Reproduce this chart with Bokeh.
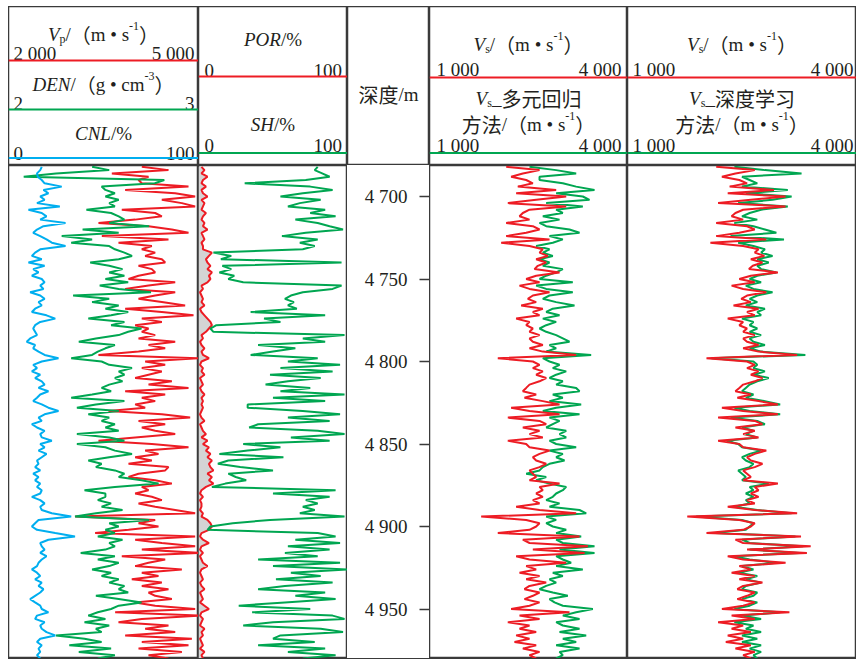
from bokeh.plotting import figure
from bokeh.models import Range1d, LinearAxis, FixedTicker, Label, Span
from bokeh.layouts import row, column
from bokeh.embed import file_html
from bokeh.resources import INLINE

# ---------------- data ----------------
depth = list(range(4682, 4981, 2))

cnl = [17.5,16.7,15,15.4,17.5,19,28,18.4,21,16.7, 19,15,27,10.5,17.5,20,16.7,30,18.4,15,
       13,16.7,20,22.8,30,16.7,14,12.3,17.5,10.5, 19,13,15.8,12.3,17.5,19,16.7,18.4,11.4,16.7,
       19,15.8,17.5,14,12.3,20,24.6,16.7,14,13,
       14,15,11.4,9.6,14,13,15.8,19,26.3,17.5, 13,15,12.3,16.7,14,17.5,19,15.8,21,16.7,
       15,13,17.5,21,26.3,19,15.8,17.5,12.3,15, 19,16.7,17.5,22.8,16.7,19,15.8,20,17.5,15,
       15.8,14,16.7,13,15.8,14,16.7,15,17.5,16.7,
       12.3,16.7,19,16.7,17.5,22.8,33,15.8,14,12.3, 15,24.6,35,21,16.7,17.5,19,16.7,20,17.5,
       15.8,15,12.3,15,16.7,14,17.5,15.8,18.4,16.7, 14,11.4,14,16.7,17.5,21,15,14,19,16.7,
       17.5,20,24.6,16.7,15,17.5,15.8,16.7,15,16.7]

den = [2.44,2.53,2.25,2.08,2.82,2.77,2.49,2.51,2.56,2.51, 2.58,2.53,2.56,2.41,2.54,2.58,2.61,2.53,2.74,2.39,
       2.58,2.28,2.44,2.33,2.53,2.56,2.61,2.65,2.58,2.43, 2.53,2.60,2.53,2.61,2.51,2.63,2.48,2.58,2.75,2.34,
       2.53,2.44,2.58,2.51,2.63,2.54,2.42,2.61,2.54,2.70,
       2.63,2.58,2.46,2.37,2.56,2.51,2.47,2.44,2.33,2.49, 2.53,2.65,2.58,2.61,2.56,2.60,2.53,2.49,2.54,2.44,
       2.33,2.61,2.46,2.36,2.58,2.42,2.53,2.49,2.56,2.51, 2.58,2.36,2.53,2.61,2.36,2.51,2.56,2.65,2.53,2.42,
       2.49,2.46,2.56,2.61,2.58,2.70,2.79,2.56,2.40,2.51,
       2.51,2.47,2.54,2.49,2.60,2.46,2.35,2.74,2.53,2.58, 2.51,2.56,2.47,2.60,2.53,2.56,2.51,2.38,2.56,2.47,
       2.58,2.53,2.44,2.54,2.49,2.58,2.53,2.61,2.58,2.63, 2.46,2.58,2.70,2.58,2.54,2.47,2.42,2.51,2.40,2.53,
       2.46,2.49,2.25,2.40,2.49,2.32,2.54,2.37,2.56,2.47]

vp = [4105,4526,3632,4211,4053,4105,4842,3842,4632,4947, 4421,4737,4947,3789,4316,4421,4000,3421,4211,4579,
      4842,3474,4526,3737,4263,4105,4316,4158,4421,4474, 4053,4263,4316,4053,3895,4632,4211,3842,4632,4316,
      4053,4421,4789,3842,4421,4921,4105,4421,4000,4211,
      4105,4316,4053,4632,4211,4474,4053,3420,5000,4158, 4474,4105,4421,4211,4000,4579,4211,4842,3842,4474,
      4105,4316,4000,4158,3579,4421,4868,4053,4474,4105, 4316,4632,4000,3421,4263,4842,4158,4368,4000,4263,
      3895,4526,4474,4053,3895,4316,4579,4105,4211,4000,
      4263,4421,4053,4316,4632,4947,3053,4316,4053,4368, 3895,3368,4947,4000,4421,4947,4105,5000,3789,4474,
      4211,4000,4737,4105,4368,3947,4421,4105,4526,4211, 4316,4579,4000,4316,4947,3684,5000,4105,3737,4526,
      4158,4632,3842,4895,4105,4842,4053,4737,4211,4526]

por = [2,4,2,6,3,2,5,2,3,6, 2,4,3,2,5,3,2,4,3,6, 2,3,4,2,3,3,9,7,5,6,
       8,6,9,7,8,6,2,3,1,2, 3,2,4,1,2,4,6,8,9,7,
       5,2,3,1,2,4,2,3,7,2, 1,3,2,4,1,2,3,1,2,4, 2,3,2,
       3,2,1,2,4,1,2,3,5,2, 6,3,7,5,8,6,9,7,8,10, 6,9,7,10,5,2,1,3,1,2,
       2,1,3,2,6,8,9,7,2,1, 3,7,2,1,3,1,2,3,6,2, 1,2,3,1,2,4,1,2,3,1,
       4,7,2,1,3,2,1,4,2,3, 1,2,3,1,4,2,3]

sh = [80,78,83,88,72,31,75,90,70,55, 82,68,60,85,75,92,65,80,88,97,
      72,56,80,68,78,70,10,22,15,96, 16,22,14,24,20,30,96,90,70,62,
      58,64,60,66,35,85,44,55,12,8, 10,98,70,85,40,65,50,35,80,60,
      95,55,90,48,82,60,45,75,55,98, 50,85,33,
      33,70,95,60,88,40,34,80,98,62, 88,30,55,33,14,57,20,13,28,50,
      20,25,32,18,9,92,50,88,72,80, 70,78,68,98,48,23,8,6,80,92,
      65,95,60,88,58,80,40,95,50,100, 62,82,52,90,58,40,85,65,92,58,
      27,75,36,90,98,50,30,82,97,55, 50,78,40,85,60,92,70]

vs = [2162,2667,2414,2237,2465,2566,2338,2919,2313,3071, 2616,2187,3071,2515,2414,2364,2515,2162,2566,2667,
      2465,2162,2818,2086,2515,2717,2667,2793,2616,2768, 2641,2591,2970,2616,2465,2667,2364,2515,2818,2566,
      2490,2616,2389,2717,2566,2667,2313,2515,2465,2566,
      2515,2667,2515,2566,2717,2515,2717,3222,2035,2566, 2667,2566,2717,2616,2768,2667,2515,2465,2414,2616,
      2439,2717,2970,2237,2515,2970,2187,2667,2768,2414, 2667,2515,2717,2187,2465,2515,2818,2667,2566,2616,
      2768,2667,2515,2566,2616,2515,2970,2667,2717,2616,
      2717,2566,2667,2313,2667,3222,1783,2465,2667,2616, 2515,2035,3273,2414,2515,3400,2566,3350,2313,2515,
      3071,2465,2616,2364,2667,2465,2768,2515,2439,2667, 2566,2439,2667,2515,2237,3121,2364,2667,2187,2515,
      2364,2616,2313,2515,2288,2616,2414,2667,2515,2616]

vs_mr = [2515,2919,3222,2667,2667,3020,3222,3500,2919,3323, 3424,2768,3323,2919,3020,2717,2970,2667,2768,3121,
         3273,2818,3020,2868,2616,2818,2717,2868,2667,2818, 2717,3020,2919,2768,2667,3171,2616,2768,3171,2818,
         2717,2919,3197,2868,2768,2970,2717,2919,2768,2667,
         2768,2919,3020,3121,2818,2919,2768,3449,2717,2818, 2970,2868,3071,2919,2818,3020,2919,3222,3273,2868,
         3020,2818,3298,2919,2717,3273,2818,2970,2868,2768, 3071,2970,3071,2818,2919,3222,2818,3020,2919,3046,
         2818,2717,2667,2465,2768,2616,2818,3071,3020,2919,
         2868,2768,2970,2818,3273,3374,2768,2919,2768,2868, 3071,2919,3298,2919,3020,3500,2970,3500,2919,3020,
         3146,2919,3323,2868,3020,2818,2919,2768,2667,2868, 3096,2818,2894,3020,3475,3222,3020,3273,2919,3020,
         3273,2970,3374,3020,3222,2919,3273,2970,3020,2919]

vs_dl = [2400,2800,3280,2500,2600,2700,2500,3100,2550,3150, 2900,2450,3100,2750,2600,2500,2700,2400,2650,2800,
         2950,2350,3050,2450,2650,2800,2750,2900,2700,2850, 2700,2750,2950,2700,2600,2750,2550,2650,2900,2700,
         2600,2700,2550,2800,2700,2750,2500,2650,2600,2700,
         2600,2750,2600,2650,2800,2600,2750,3330,2100,2650, 2700,2650,2800,2650,2850,2700,2600,2550,2500,2650,
         2550,2800,3000,2400,2600,3000,2350,2700,2800,2500, 2650,2550,2700,2300,2450,2500,2750,2600,2500,2550,
         2650,2600,2450,2500,2550,2500,2850,2600,2650,2550,
         2650,2550,2600,2400,2700,3150,1900,2500,2650,2600, 2550,2150,3200,2500,2600,3300,2600,3250,2400,2600,
         2950,2500,2650,2450,2700,2550,2750,2550,2500,2700, 2650,2500,2700,2600,2400,3000,2500,2750,2400,2650,
         2550,2750,2500,2700,2500,2750,2600,2750,2650,2700]

depth_ticks = [4700, 4750, 4800, 4850, 4900, 4950]
depth_tick_labels = ["4 700", "4 750", "4 800", "4 850", "4 900", "4 950"]

# ---------------- styling ----------------
RED, GREEN, BLUE = "#ED1C24", "#00A651", "#00AEEF"
TXT = "#231f20"
FRAME = "#3a3a3a"
SERIF = "Liberation Serif"
CJK = "Noto Sans CJK SC"
HEAD_H, PLOT_H = 159, 493
W1, W2, W3, W4, W5 = 190, 149, 82, 198, 229
yr = Range1d(4980.0, 4681.2)

STYLE = {"it": (SERIF, 19, "italic", 0), "rm": (SERIF, 19, "normal", 0),
         "sub": (SERIF, 12, "normal", 4), "sup": (SERIF, 12, "normal", -9),
         "cjk": (CJK, 20, "normal", 0)}
CW = {" ": 0.25, "/": 0.278, "m": 0.778, "s": 0.389, "\u2022": 0.35, "g": 0.5, "c": 0.444,
      "%": 0.833, "_": 0.5, "-": 0.333, "p": 0.5}
CWI = {"V": 0.611, "D": 0.722, "E": 0.611, "N": 0.667, "C": 0.667, "L": 0.556, "P": 0.611,
       "O": 0.722, "R": 0.611, "S": 0.5, "H": 0.722}


def pw(t, k):
    size = STYLE[k][1]
    w = 0.0
    for ch in t:
        if ord(ch) > 0x2E80:
            w += 1.0
        elif k == "it":
            w += CWI.get(ch, 0.5)
        else:
            w += CW.get(ch, 0.5)
    return w * size


def rich(fig, pieces, cx, base):
    total = sum(pw(t, k) for t, k in pieces)
    x = cx - total / 2
    for t, k in pieces:
        font, size, style, dy = STYLE[k]
        fig.add_layout(Label(x=x, y=base + dy, text=t, text_font=font,
                             text_font_size=f"{size}px", text_font_style=style,
                             text_baseline="alphabetic", text_align="left", text_color=TXT))
        x += pw(t, k)


def num(fig, t, x, base, align):
    fig.add_layout(Label(x=x, y=base, text=t, text_font=SERIF, text_font_size="19px",
                         text_baseline="alphabetic", text_align=align, text_color=TXT))


def hline(fig, y, color):
    fig.add_layout(Span(location=y, dimension="width", line_color=color, line_width=2))


def header(w):
    f = figure(width=w, height=HEAD_H, x_range=Range1d(0, w), y_range=Range1d(HEAD_H, 0),
               toolbar_location=None, output_backend="svg", min_border=0,
               x_axis_location=None, y_axis_location=None)
    f.grid.visible = False
    f.outline_line_color = FRAME
    f.outline_line_width = 1.5
    f.background_fill_color = "white"
    return f


def track(w, xr):
    f = figure(width=w, height=PLOT_H, x_range=xr, y_range=yr,
               toolbar_location=None, output_backend="svg", min_border=0,
               x_axis_location=None, y_axis_location=None)
    f.grid.visible = False
    f.outline_line_color = FRAME
    f.outline_line_width = 1.5
    return f


VS_UNIT = [("/", "rm"), ("\uff08", "cjk"), ("m \u2022 s", "rm"), ("-1", "sup"), ("\uff09", "cjk")]

# ---- column 1 ----
h1 = header(W1)
rich(h1, [("V", "it"), ("p", "sub")] + VS_UNIT, W1 / 2, 28)
num(h1, "2 000", 5, 46.5, "left"); num(h1, "5 000", 186, 46.5, "right")
hline(h1, 54, RED)
rich(h1, [("DEN", "it"), ("/", "rm"), ("\uff08", "cjk"), ("g \u2022 cm", "rm"), ("-3", "sup"),
          ("\uff09", "cjk")], W1 / 2, 78)
num(h1, "2", 5, 97, "left"); num(h1, "3", 186, 97, "right")
hline(h1, 103, GREEN)
rich(h1, [("CNL", "it"), ("/%", "rm")], W1 / 2, 127)
num(h1, "0", 5, 146.5, "left"); num(h1, "100", 186, 146.5, "right")
hline(h1, 151.5, BLUE)

p1 = track(W1, Range1d(2000, 5000))
p1.extra_x_ranges = {"den": Range1d(2, 3), "cnl": Range1d(0, 100)}
p1.line(x=vp, y=depth, line_color=RED, line_width=2)
p1.line(x=den, y=depth, line_color=GREEN, line_width=2, x_range_name="den")
p1.line(x=cnl, y=depth, line_color=BLUE, line_width=2, x_range_name="cnl")

# ---- column 2 ----
h2 = header(W2)
rich(h2, [("POR", "it"), ("/%", "rm")], W2 / 2, 33)
num(h2, "0", 6, 63.5, "left"); num(h2, "100", 143.5, 63.5, "right")
hline(h2, 70, RED)
rich(h2, [("SH", "it"), ("/%", "rm")], W2 / 2, 118)
num(h2, "0", 6, 139, "left"); num(h2, "100", 143.5, 139, "right")
hline(h2, 146.5, GREEN)

p2 = track(W2, Range1d(0, 100))
p2.harea(y=depth, x1=0, x2=por, fill_color="#d4d4d4")
p2.line(x=por, y=depth, line_color=RED, line_width=2)
p2.line(x=sh, y=depth, line_color=GREEN, line_width=2)

# ---- depth column ----
h3 = header(W3)
rich(h3, [("\u6df1\u5ea6", "cjk"), ("/m", "rm")], W3 / 2, 88)

p3 = figure(width=W3, height=PLOT_H, x_range=Range1d(0, 1), y_range=yr,
            toolbar_location=None, output_backend="svg",
            min_border_left=W3 - 10, min_border_right=0, min_border_top=0, min_border_bottom=0,
            x_axis_location=None, y_axis_location=None)
p3.grid.visible = False
p3.outline_line_color = None
ax = LinearAxis(ticker=FixedTicker(ticks=depth_ticks),
                major_label_overrides={t: l for t, l in zip(depth_ticks, depth_tick_labels)})
ax.axis_line_color = None
ax.major_tick_in = 10
ax.major_tick_out = 0
ax.minor_tick_in = 0
ax.minor_tick_out = 0
ax.major_tick_line_color = FRAME
ax.major_tick_line_width = 1.5
ax.major_label_standoff = 12
ax.major_label_text_font = SERIF
ax.major_label_text_font_size = "19px"
ax.major_label_text_color = TXT
p3.add_layout(ax, "left")

# ---- column 4 & 5 ----
def vs_header(w, method, left, right):
    h = header(w)
    rich(h, [("V", "it"), ("s", "sub")] + VS_UNIT, w / 2, 38)
    num(h, "1 000", left, 62.5, "left"); num(h, "4 000", right, 62.5, "right")
    hline(h, 71, RED)
    rich(h, [("V", "it"), ("s", "sub"), ("_", "rm"), (method, "cjk")], w / 2, 92)
    rich(h, [("\u65b9\u6cd5", "cjk")] + VS_UNIT, w / 2, 118)
    num(h, "1 000", left, 139, "left"); num(h, "4 000", right, 139, "right")
    hline(h, 146.5, GREEN)
    return h


h4 = vs_header(W4, "\u591a\u5143\u56de\u5f52", 7, 192)
p4 = track(W4, Range1d(1000, 4000))
p4.line(x=vs_mr, y=depth, line_color=GREEN, line_width=2)
p4.line(x=vs, y=depth, line_color=RED, line_width=2)

h5 = vs_header(W5, "\u6df1\u5ea6\u5b66\u4e60", 5, 226)
p5 = track(W5, Range1d(1000, 4000))
p5.line(x=vs_dl, y=depth, line_color=GREEN, line_width=2)
p5.line(x=vs, y=depth, line_color=RED, line_width=2)

heads = row(h1, h2, h3, h4, h5)
plots = row(p1, p2, p3, p4, p5, styles={"border-bottom": "1px solid #3a3a3a"})
layout = column(heads, plots, margin=(6, 0, 0, 8))

open("out.html", "w").write(file_html(layout, INLINE))
